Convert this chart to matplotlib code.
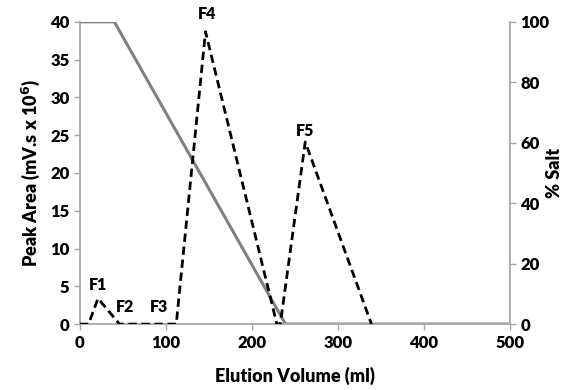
import matplotlib.pyplot as plt

plt.rcParams['font.family'] = ['Lato', 'DejaVu Sans']
plt.rcParams['font.weight'] = 'bold'

# peak area trace (dashed)
vol = [0, 10, 21, 46, 112, 146, 229, 233, 262, 339]
area = [0, 0, 3.4, 0, 0, 38.7, 0, 0, 24.1, 0]

# salt gradient (solid grey)
salt_vol = [0, 40, 239, 500]
salt = [100, 100, 0, 0]

labels = ['F1', 'F2', 'F3', 'F4', 'F5']
label_x = [21, 53, 92, 148, 262]
label_y = [5.2, 2.3, 2.3, 41.0, 25.6]

fig = plt.figure(figsize=(5.71, 3.9), dpi=100)
ax = fig.add_axes([0.140, 0.169, 0.753, 0.775])
ax2 = ax.twinx()

ax2.plot(salt_vol, salt, color='#808080', lw=2.2, zorder=2)
ax.plot(vol, area, color='black', lw=2, dashes=(3, 1.7), zorder=3)
ax.set_zorder(ax2.get_zorder() + 1)
ax.patch.set_visible(False)

for t, x, y in zip(labels, label_x, label_y):
    ax.text(x, y, t, ha='center', va='center', fontsize=11.5, fontweight='heavy')

ax.set_xlim(0, 500)
ax.set_ylim(0, 40)
ax2.set_ylim(0, 100)
ax.set_xticks([0, 100, 200, 300, 400, 500])
ax.set_yticks(range(0, 41, 5))
ax2.set_yticks(range(0, 101, 20))

ax.set_xlabel('Elution Volume (ml)', fontsize=13, fontweight='heavy', labelpad=12)
ax.set_ylabel('Peak Area (mV.s x 10$^{6}$)', fontsize=13, fontweight='heavy', labelpad=6)
ax2.set_ylabel('% Salt', fontsize=13, fontweight='heavy')
ax2.yaxis.set_label_coords(1.085, 0.5)

for a in (ax, ax2):
    for s in a.spines.values():
        s.set_color('#a6a6a6')
        s.set_linewidth(1.3)
    a.spines['top'].set_visible(False)
    a.tick_params(colors='#a6a6a6', labelcolor='black', labelsize=12, length=4, width=1)
    for lab in a.get_xticklabels() + a.get_yticklabels():
        lab.set_fontweight('heavy')
ax.spines['right'].set_visible(False)
ax2.spines['left'].set_visible(False)
ax2.spines['bottom'].set_visible(False)

fig.savefig('out.png', dpi=100)
